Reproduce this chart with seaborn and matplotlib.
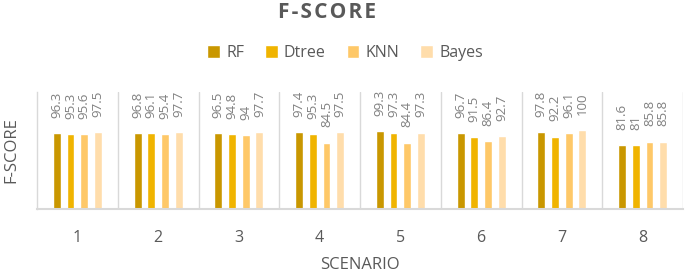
import pandas as pd
import matplotlib
matplotlib.use("Agg")
import matplotlib.pyplot as plt
import seaborn as sns

# Data
scenarios = ["1", "2", "3", "4", "5", "6", "7", "8"]
models = ["RF", "Dtree", "KNN", "Bayes"]
rf = [96.3, 96.8, 96.5, 97.4, 99.3, 96.7, 97.8, 81.6]
dtree = [95.3, 96.1, 94.8, 95.3, 97.3, 91.5, 92.2, 81]
knn = [95.6, 95.4, 94, 84.5, 84.4, 86.4, 96.1, 85.8]
bayes = [97.5, 97.7, 97.7, 97.5, 97.3, 92.7, 100, 85.8]

colors = ["#C99700", "#F0B400", "#FEC868", "#FFDDAB"]
GRAY = "#595959"
LIGHT = "#D9D9D9"

rows = []
for name, vals in zip(models, [rf, dtree, knn, bayes]):
    for s, v in zip(scenarios, vals):
        rows.append({"scenario": s, "model": name, "fscore": v})
df = pd.DataFrame(rows)

sns.set_style("white")
plt.rcParams["font.family"] = ["Open Sans", "DejaVu Sans"]

fig = plt.figure(figsize=(6.85, 2.73), dpi=100)
ax = fig.add_axes([37 / 685, 63.7 / 273, 646 / 685, 117.6 / 273])

sns.barplot(data=df, x="scenario", y="fscore", hue="model", order=scenarios,
            hue_order=models, palette=colors, saturation=1, errorbar=None,
            width=0.68, gap=0.42, ax=ax)

for cont in ax.containers:
    ax.bar_label(cont, fmt="%g", padding=11, rotation=90, fontsize=9.5, color="#808080")

ax.set_ylim(0, 149)
ax.set_xlim(-0.5, len(scenarios) - 0.5)
for i in range(len(scenarios)):
    ax.axvline(i + 0.5, color=LIGHT, lw=1, zorder=0)

for side in ["top", "right"]:
    ax.spines[side].set_visible(False)
ax.spines["left"].set_color(LIGHT)
ax.spines["left"].set_linewidth(1)
ax.spines["bottom"].set_color(LIGHT)
ax.spines["bottom"].set_linewidth(1.5)

ax.set_yticks([])
ax.tick_params(axis="x", length=0, pad=15, labelsize=11.5, labelcolor=GRAY)
ax.set_xlabel("")
ax.set_ylabel("")

handles, labels = ax.get_legend_handles_labels()
ax.get_legend().remove()
fig.legend(handles, labels, loc="center", bbox_to_anchor=(345 / 685, 1 - 53 / 273),
           ncol=4, frameon=False, fontsize=11.5, labelcolor=GRAY,
           handlelength=0.8, handleheight=0.8, handletextpad=0.4, columnspacing=1.3)

# slightly wider letter spacing on the title, like the original
title = "\u200a".join("F-SCORE")
fig.text(327 / 685, 1 - 12.5 / 273, title, ha="center", va="center",
         fontsize=15, fontweight="bold", color=GRAY)
fig.text(360 / 685, 1 - 265 / 273, "SCENARIO", ha="center", va="center",
         fontsize=12, color=GRAY)
fig.text(11 / 685, 1 - 150 / 273, "F-SCORE", ha="center", va="center",
         rotation=90, fontsize=12, color=GRAY)

fig.savefig("out.png", dpi=100)
